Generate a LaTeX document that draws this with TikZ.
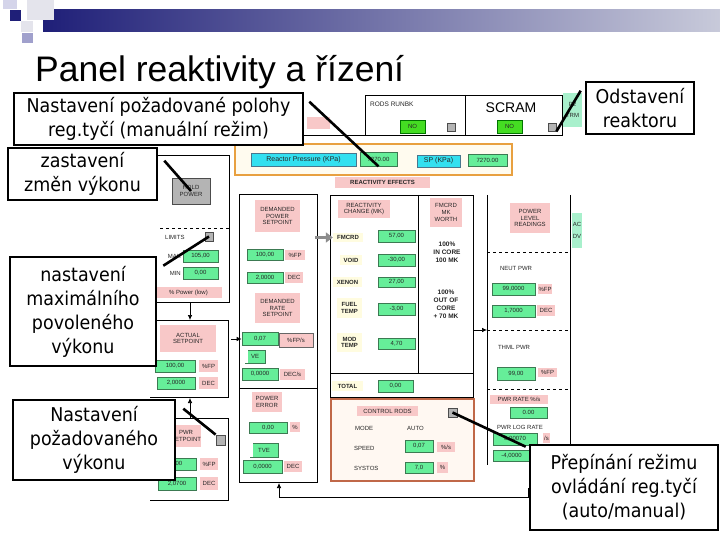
\documentclass[tikz,border=0pt]{standalone}
\usepackage{fontspec}
\setmainfont{Liberation Sans}
\newfontfamily\callfont[FakeStretch=0.92]{DejaVu Sans}
\usetikzlibrary{arrows.meta,calc}

\definecolor{navy}{HTML}{1F1F78}
\definecolor{bargray}{HTML}{C8CADA}
\definecolor{valg}{HTML}{66EE99}
\definecolor{valgb}{HTML}{3C7A52}
\definecolor{nog}{HTML}{44DD22}
\definecolor{pinkl}{HTML}{F8C8C8}
\definecolor{cyanl}{HTML}{33E0F0}
\definecolor{mint}{HTML}{A8F0CC}
\definecolor{creaml}{HTML}{FFFCE0}
\definecolor{orangeb}{HTML}{E8A040}
\definecolor{orangef}{HTML}{FFFBEF}
\definecolor{rodb}{HTML}{C06848}
\definecolor{rodf}{HTML}{FFF8F2}
\definecolor{btngray}{HTML}{B4B4B4}
\definecolor{sqa}{HTML}{D4D4EA}
\definecolor{sqb}{HTML}{E4E4EC}
\definecolor{sqc}{HTML}{A0A0CC}

\newcommand\bx[7]{\node[#1, minimum width={((#5)-(#3))*1pt}, minimum height={((#6)-(#4))*1pt}] (#2) at ({((#3)+(#5))/2},{((#4)+(#6))/2}) {#7};}

\tikzset{
  tinyt/.style={font=\fontsize{6}{6.6}\selectfont, text=black!85, inner sep=0pt, align=center},
  tinyb/.style={tinyt, font=\fontsize{6}{6.6}\selectfont\bfseries},
  lbl/.style={tinyt},
  val/.style={tinyt, draw=valgb, fill=valg, line width=0.7pt},
  pink/.style={tinyt, fill=pinkl},
  nobox/.style={tinyt, draw=green!45!black, fill=nog, line width=0.6pt},
  cyanbox/.style={tinyt, fill=cyanl, draw=cyan!50!black, line width=0.4pt, font=\fontsize{7}{8}\selectfont},
  mintbox/.style={tinyt, fill=mint},
  cream/.style={tinyb, fill=creaml},
  sq/.style={draw=black!70, fill=btngray, line width=0.8pt, inner sep=0pt},
  panel/.style={draw=black, line width=0.7pt},
  arr/.style={panel, -{Latex[length=5pt,width=4.5pt]}},
  callout/.style={draw=black, line width=2.6pt, fill=white, font=\callfont\fontsize{19}{24}\selectfont, align=center, inner sep=0pt},
  pointer/.style={draw=black, line width=2.6pt}
}

\begin{document}
\begin{tikzpicture}[x=1pt,y=-1pt]
\useasboundingbox (0,0) rectangle (720,540);
\fill[white] (0,0) rectangle (720,540);

% banner
\shade[left color=navy, right color=bargray] (43,10) rectangle (720,32);
\fill[sqa] (3,0) rectangle (17,9);
\fill[navy] (10,10) rectangle (21,21);
\fill[sqb] (27,0) rectangle (54,20);
\fill[sqb] (21,21) rectangle (33,32);
\fill[sqc] (22,33) rectangle (33,43);

\node[anchor=base west, font=\fontsize{35.5}{40}\selectfont, inner sep=0pt] (title) at (35,82) {Panel reaktivity a řízení};

% ---- top row
\draw[panel] (300,135) -- (365,135);
\bx{pink}{pinktop}{307}{117}{330}{129}{}
\bx{panel,fill=white}{rodsbox}{365}{95}{562}{135}{}
\draw[panel] (465,95) -- (465,135);
\node[lbl, anchor=west, font=\fontsize{6.5}{7}\selectfont] (rodst) at (370,104) {RODS RUNBK};
\bx{nobox}{rodsno}{400}{120}{425}{133}{NO}
\bx{sq}{rodssq}{447}{123}{455}{131}{}
\node[inner sep=0pt, font=\fontsize{14}{15}\selectfont] (scramt) at (511,108) {SCRAM};
\bx{nobox}{scramno}{497}{120}{522}{133}{NO}
\bx{sq}{scramsq}{548}{123}{556}{131}{}
\bx{mintbox}{p2box}{563}{93}{582}{127}{P2\\[5pt]TRM}

% ---- reactor pressure
\bx{draw=orangeb, fill=orangef, line width=1.6pt}{rpbox}{235}{144}{512}{175}{}
\bx{cyanbox}{rplab}{251}{153}{356}{166}{Reactor Pressure (KPa)}
\bx{val}{rpv}{360}{152}{397}{166}{7270.00}
\bx{cyanbox}{splab}{417}{155}{460}{167}{SP (KPa)}
\bx{val}{spv}{468}{154}{507}{166}{7270.00}
\bx{pink, font=\fontsize{6}{7}\selectfont\bfseries}{reffx}{335}{177}{430}{188}{REACTIVITY EFFECTS}

% ---- hold power / limits
\draw[panel] (155,155) -- (229,155) -- (229,302) -- (150,302);
\bx{draw=black!70, fill=btngray, line width=0.8pt, tinyt}{hold}{172}{178}{210}{204}{HOLD\\POWER}
\draw[panel, dashed] (160,228) -- (229,228);
\node[lbl, anchor=west] (limt) at (165,237) {LIMITS};
\bx{sq}{limsq}{205}{232}{213}{241}{}
\bx{val}{maxv}{183}{250}{218}{262}{105,00}
\node[lbl, anchor=east] (maxt) at (181,256) {MAX};
\bx{val}{minv}{183}{267}{218}{279}{0,00}
\node[lbl, anchor=east] (mint) at (181,273) {MIN};
\bx{pink}{pwrlow}{155}{287}{222}{298}{\% Power (low)}
\coordinate (holdbot) at (190,302);
\coordinate (acttop) at (190,320);
\draw[arr] (holdbot) -- (acttop);

% ---- actual setpoint
\draw[panel] (150,320) -- (228,320) -- (228,397) -- (150,397);
\bx{pink}{actsp}{160}{325}{216}{352}{ACTUAL\\SETPOINT}
\bx{val}{actv1}{155}{360}{195}{372}{100,00}
\bx{pink}{actu1}{199}{360}{218}{372}{\%FP}
\bx{val}{actv2}{157}{377}{195}{389}{2,0000}
\bx{pink}{actu2}{199}{377}{218}{389}{DEC}
\coordinate (pwrtop) at (190,418);
\coordinate (actbot) at (190,398);
\draw[arr] (pwrtop) -- (actbot);

% ---- pwr setpoint
\draw[panel] (150,418) -- (228,418) -- (228,500) -- (150,500);
\bx{pink}{pwrsp}{172}{425}{200}{447}{PWR\\SETPOINT}
\bx{sq}{pwrsq}{216}{435}{225}{445}{}
\bx{val}{pwrv1}{150}{458}{196}{470}{100,00}
\bx{pink}{pwru1}{200}{458}{218}{470}{\%FP}
\bx{val}{pwrv2}{158}{477}{196}{490}{2,0700}
\bx{pink}{pwru2}{200}{477}{218}{490}{DEC}

% ---- demanded setpoints
\draw[panel] (239,194) rectangle (317,388);
\bx{pink}{dps}{255}{200}{300}{232}{DEMANDED\\POWER\\SETPOINT}
\bx{val}{dpv1}{247}{249}{283}{260}{100,00}
\bx{pink}{dpu1}{285}{250}{305}{260}{\%FP}
\bx{val}{dpv2}{247}{272}{283}{283}{2,0000}
\bx{pink}{dpu2}{285}{272}{303}{283}{DEC}
\bx{pink}{drs}{255}{293}{300}{323}{DEMANDED\\RATE\\SETPOINT}
\bx{val}{drv1}{242}{332}{278}{345}{0,07}
\bx{pink, draw=black!60, line width=0.6pt}{dru1}{279}{333}{313}{347}{\%FP/s}
\bx{val}{ve}{245}{350}{265}{363}{VE}
\fill[white] (ve.north west) rectangle ($(ve.south west)+(3,0)$);
\bx{val}{drv2}{242}{368}{278}{380}{0,0000}
\bx{pink}{dru2}{280}{369}{305}{380}{DEC/s}
\coordinate (drin) at (231,339);
\draw[arr] (drin) -- (drv1.west |- drin);

% ---- power error
\draw[panel] (239,388) rectangle (317,482);
\bx{pink}{perr}{252}{392}{282}{412}{POWER\\ERROR}
\bx{val}{pev1}{249}{422}{287}{433}{0,00}
\bx{pink}{peu1}{290}{422}{300}{432}{\%}
\bx{val}{tve}{250}{443}{278}{457}{TVE}
\fill[white] (tve.north west) rectangle ($(tve.south west)+(3,0)$);
\bx{val}{pev2}{243}{460}{282}{473}{0,0000}
\bx{pink}{peu2}{284}{461}{302}{472}{DEC}
\coordinate (fbstart) at (528,488);
\coordinate (fbend) at (279,483);
\draw[arr] (fbstart) -- (528,497) -- (279,497) -- (fbend);

% ---- reactivity panel
\draw[panel] (330,195) rectangle (473,397);
\draw[panel] (418,195) -- (418,373);
\draw[panel] (330,373) -- (473,373);
\bx{pink}{rchg}{338}{200}{390}{218}{REACTIVITY\\CHANGE (MK)}
\bx{cream}{fmcrd}{333}{233}{363}{242}{FMCRD}
\bx{val}{fmv}{378}{230}{415}{242}{57,00}
\coordinate (gstart) at (315,237.5);
\draw[black!45, line width=3pt, -{Triangle[length=7pt,width=10pt]}] (gstart) -- (fmcrd.west);
\bx{cream}{void}{340}{255}{362}{265}{VOID}
\bx{val}{voidv}{378}{254}{415}{266}{-30,00}
\bx{cream}{xenon}{333}{277}{362}{287}{XENON}
\bx{val}{xenv}{378}{277}{415}{287}{27,00}
\bx{cream}{fuel}{337}{298}{362}{318}{FUEL\\TEMP}
\bx{val}{fuelv}{378}{303}{415}{315}{-3,00}
\bx{cream}{mod}{337}{333}{362}{352}{MOD\\TEMP}
\bx{val}{modv}{378}{338}{415}{349}{4,70}
\bx{cream}{total}{332}{381}{363}{391}{TOTAL}
\bx{val}{totv}{378}{380}{413}{392}{0,00}
\bx{pink}{mkw}{430}{198}{462}{227}{FMCRD\\MK\\WORTH}
\node[tinyb, font=\fontsize{6.5}{8}\selectfont\bfseries] (incore) at (447,252) {100\%\\IN CORE\\100 MK};
\node[tinyb, font=\fontsize{6.5}{8}\selectfont\bfseries] (outcore) at (446,304) {100\%\\OUT OF\\CORE\\+ 70 MK};

% ---- control rods
\bx{draw=rodb, fill=rodf, line width=1.2pt}{rodsp}{331}{399}{474}{481}{}
\bx{pink}{ctlr}{357}{406}{418}{416}{CONTROL RODS}
\bx{sq}{ctlsq}{448}{408}{457}{417}{}
\node[lbl, anchor=west] (modet) at (355,428) {MODE};
\node[lbl, anchor=west] (autot) at (407,428) {AUTO};
\node[lbl, anchor=west] (speedt) at (354,448) {SPEED};
\bx{val}{spdv}{405}{440}{433}{452}{0,07}
\bx{pink}{spdu}{437}{442}{455}{452}{\%/s}
\node[lbl, anchor=west] (systt) at (354,468) {SYSTOS};
\bx{val}{sysv}{405}{462}{433}{473}{7,0}
\bx{pink}{sysu}{437}{462}{448}{473}{\%}

% ---- power level readings
\draw[panel] (487,195) -- (487,465);
\draw[panel] (570,195) -- (570,465);
\bx{pink}{plr}{510}{203}{550}{233}{POWER\\LEVEL\\READINGS}
\bx{mintbox}{acdv}{572}{213}{582}{248}{AC\\[5pt]DV}
\draw[panel, dashed] (487,252) -- (570,252);
\node[lbl] (neut) at (516,268) {NEUT PWR};
\bx{val}{nv1}{492}{283}{535}{295}{99,0000}
\bx{pink}{nu1}{538}{284}{552}{294}{\%FP}
\bx{val}{nv2}{492}{305}{535}{317}{1,7000}
\bx{pink}{nu2}{537}{305}{555}{316}{DEC}
\draw[panel, dashed] (487,330) -- (570,330);
\coordinate (reout) at (473,330);
\coordinate (plin) at (487,330);
\draw[arr] (reout) -- (plin);
\node[lbl] (thml) at (514,347) {THML PWR};
\bx{val}{tv}{497}{367}{535}{380}{99,00}
\bx{pink}{tu}{538}{368}{557}{377}{\%FP}
\draw[panel, dashed] (487,389) -- (570,389);
\bx{pink}{prate}{490}{395}{548}{404}{PWR RATE \%/s}
\bx{val}{prv}{510}{407}{547}{418}{0.00}
\node[lbl] (plog) at (520,427) {PWR LOG RATE};
\bx{val}{plv}{493}{433}{537}{445}{0,00070}
\bx{pink}{plu}{543}{433}{550}{443}{/s}
\bx{val}{plv2}{493}{450}{530}{461}{-4,0000}

% ---- callouts
\bx{callout}{c1}{14}{93}{303}{145}{Nastavení požadované polohy\\reg.tyčí (manuální režim)}
\bx{callout}{c2}{586}{82}{694}{134}{Odstavení\\reaktoru}
\bx{callout}{c3}{8}{148}{157}{200}{zastavení\\změn výkonu}
\bx{callout}{c4}{10}{257}{156}{366}{nastavení\\maximálního\\povoleného\\výkonu}
\bx{callout}{c5}{13}{400}{175}{480}{Nastavení\\požadovaného\\výkonu}
\bx{callout}{c6}{530}{445}{718}{530}{Přepínání režimu\\ovládání reg.tyčí\\(auto/manual)}

\draw[pointer] ($(c1.north east)+(5,10)$) -- (rpv.south);
\draw[pointer] ($(c2.north west)+(-4,10)$) -- (scramsq.south east);
\draw[pointer] ($(c3.north east)+(6,14)$) -- (hold.center);
\draw[pointer] ($(c4.north east)+(6,10)$) -- (limsq.center);
\draw[pointer] ($(c5.north east)+(7,10)$) -- (pwrsq.north west);
\draw[pointer] (ctlsq.center) -- ($(c6.north west)+(-3,3)$);
\end{tikzpicture}
\end{document}
